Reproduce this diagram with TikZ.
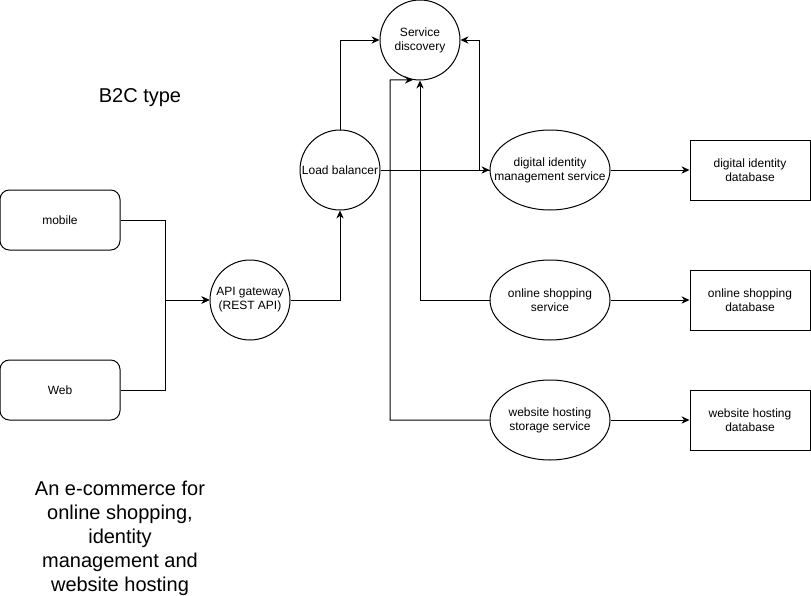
\documentclass[tikz,border=0pt]{standalone}
\usepackage{fontspec}
\setmainfont{Liberation Sans}
\usetikzlibrary{arrows.meta}
\usetikzlibrary{positioning}
\usetikzlibrary{shapes.geometric}

\begin{document}
\begin{tikzpicture}[
  x=0.75pt, y=-0.75pt,
  line width=0.75pt,
  every node/.style={font=\fontsize{9}{10.5}\selectfont, align=center},
  hub/.style={draw, circle, minimum size=60pt, inner sep=0pt},
  svc/.style={draw, ellipse, minimum width=90pt, minimum height=60pt, inner sep=-12pt},
  db/.style={draw, rectangle, minimum width=90pt, minimum height=45pt},
  client/.style={draw, rectangle, rounded corners=7pt, minimum width=90pt, minimum height=45pt},
  bigtext/.style={font=\fontsize{15}{18}\selectfont},
  ]
\useasboundingbox (0,0) rectangle (811,596);

\node [client] (mobile) at (60,220) {mobile};
\node [client] (web) at (60,390) {Web};
\node [hub] (api) at (250,300) {API gateway\\(REST API)};
\node [hub] (lb) at (340,170) {Load balancer};
\node [hub] (sd) at (420,40) {Service\\discovery};

\node [svc] (dims) at (550,170) {digital identity\\management service};
\node [svc] (shop) at (550,300) {online shopping\\service};
\node [svc] (host) at (550,420) {website hosting\\storage service};

\node [db] (dimdb) at (750,170) {digital identity\\database};
\node [db] (shopdb) at (750,300) {online shopping\\database};
\node [db] (hostdb) at (750,420) {website hosting\\database};

\node [bigtext] (type) at (140,98) {B2C type};
\node [bigtext] (about) at (120,538)
  {An e-commerce for\\online shopping,\\identity\\management and\\website hosting};

\coordinate (hostup) at (390,80);

\path [-{Stealth[length=6pt, width=5.5pt]}]
(mobile.east) edge [to path={-- ++(45,0) |- (\tikztotarget)}] (api.west)
(web.east) edge [to path={-- ++(45,0) |- (\tikztotarget)}] (api.west)
(api.east) edge [to path={-| (\tikztotarget)}] (lb.south)
(lb.north) edge [to path={|- (\tikztotarget)}] (sd.west)
(lb.east) edge (dims.west)
(dims.west) edge [to path={-- ++(-10,0) |- (\tikztotarget)}] (sd.east)
(shop.west) edge [to path={-| (\tikztotarget)}] (sd.south)
(dims.east) edge (dimdb.west)
(shop.east) edge (shopdb.west)
(host.east) edge (hostdb.west);

\draw [-{Stealth[length=6pt, width=5.5pt]}]
(host.west) -| (hostup) -- (sd.-100);
\end{tikzpicture}
\end{document}
